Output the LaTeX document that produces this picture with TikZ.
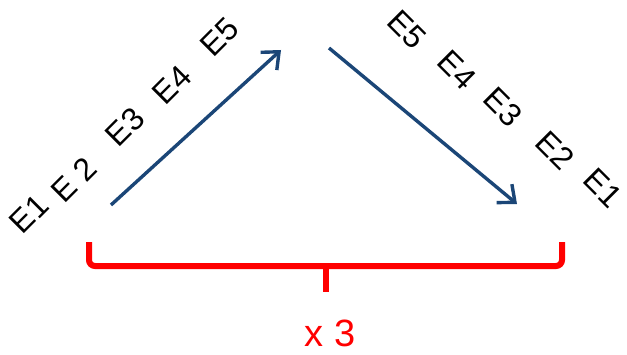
\documentclass[tikz,border=0pt]{standalone}
\usepackage{fontspec}
\setmainfont{Liberation Sans}
\usepackage{tikz}
\usetikzlibrary{arrows.meta,positioning}
\definecolor{navy}{HTML}{1B4677}
\definecolor{brred}{HTML}{FF0000}

\begin{document}
\begin{tikzpicture}[x=0.5pt,y=0.5pt,font=\fontsize{16}{19}\selectfont,
  flow/.style={draw=navy,line width=1.7pt,-{Straight Barb[length=7pt,width=12pt,line width=1.7pt]}},
  upl/.style={rotate=45,inner sep=0pt},
  dnl/.style={rotate=-45,inner sep=0pt}]
\useasboundingbox (0,0) rectangle (627,354);
% arrows
\coordinate (ua) at (111,149);
\coordinate (ub) at (281,304);
\coordinate (da) at (329,306);
\coordinate (db) at (517,150);
\draw[flow] (ua) -- (ub);
\draw[flow] (da) -- (db);
% rising labels
\node[upl] (u1) at (29,140) {E1};
\node[upl] (u2) at (74,174) {E 2};
\node[upl] (u3) at (125,227) {E3};
\node[upl] (u4) at (172,269) {E4};
\node[upl] (u5) at (220,317) {E5};
% falling labels
\node[dnl] (d5) at (407,324) {E5};
\node[dnl] (d4) at (457,284) {E4};
\node[dnl] (d3) at (503,247) {E3};
\node[dnl] (d2) at (555,204) {E2};
\node[dnl] (d1) at (603,166) {E1};
% brace
\coordinate (bl) at (89,112);
\coordinate (br) at (562,112);
\coordinate (bm) at (326,88);
\coordinate (bt) at (326,62);
\draw[brred,line width=3pt,rounded corners=3pt] (bl) |- (bm) -| (br);
\draw[brred,line width=3pt] (bm) -- (bt);
\node[text=brred,font=\fontsize{19}{22}\selectfont] (rep) at (330,21) {x 3};
\end{tikzpicture}
\end{document}
